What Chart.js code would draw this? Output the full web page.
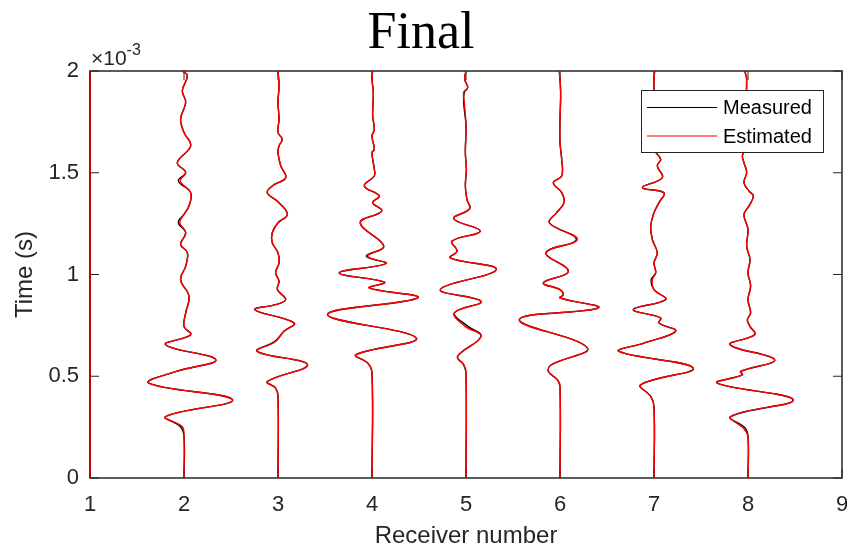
<!DOCTYPE html>
<html>
<head>
<meta charset="utf-8">
<script src="https://cdn.jsdelivr.net/npm/chart.js@4.4.0/dist/chart.umd.min.js"></script>
<style>
  body { margin: 0; background: #fff; }
  #graph { display: block; }
</style>
</head>
<body>
<canvas id="graph" width="847" height="549"></canvas>
<script>
// tick values (time axis is in units of 1e-3 s)
const xTicks = [1, 2, 3, 4, 5, 6, 7, 8, 9];
const yTicks = [0, 0.5, 1, 1.5, 2];

// trace 1 : flat on the left edge
const time1 = [0, 2];
const meas1 = [0, 0];
const est1 = [0, 0];

// trace 2
const time2 = [0, 0.204, 0.253, 0.302, 0.384, 0.466, 0.524, 0.581, 0.655, 0.704, 0.745, 0.811, 0.893, 0.975, 1.041, 1.107, 1.148, 1.205, 1.255, 1.296, 1.337, 1.402, 1.460, 1.501, 1.550, 1.632, 1.698, 1.764, 1.846, 1.903, 1.977, 2.0];
const est2 = [0, 0, -0.02, -0.196, 0.517, -0.374, -0.08, 0.339, -0.196, 0.071, 0, 0.018, 0.053, -0.036, 0.018, 0.036, -0.036, 0.018, -0.045, 0, 0.053, 0.071, -0.04, 0.018, -0.071, 0.071, 0, -0.036, 0.018, -0.018, 0.036, -0.018];
const meas2 = [0, 0, -0.04, -0.196, 0.517, -0.374, -0.08, 0.339, -0.196, 0.071, 0, 0.018, 0.053, -0.036, 0.018, 0.036, -0.036, 0.018, -0.06, 0, 0.053, 0.071, -0.06, 0.018, -0.071, 0.071, 0, -0.036, 0.018, -0.018, 0.036, -0.018];

// trace 3
const time3 = [0, 0.401, 0.442, 0.474, 0.557, 0.622, 0.671, 0.721, 0.762, 0.827, 0.852, 0.877, 0.926, 0.967, 1.008, 1.057, 1.107, 1.156, 1.205, 1.254, 1.295, 1.353, 1.402, 1.435, 1.476, 1.534, 1.599, 1.632, 1.665, 1.698, 1.763, 1.846, 1.928, 2.0];
const est3 = [0, 0, -0.025, -0.114, 0.314, -0.221, -0.025, 0.064, 0.171, -0.246, -0.025, 0.082, -0.007, 0.011, -0.025, 0.011, 0, -0.061, -0.061, 0, 0.1, 0.011, -0.114, -0.061, 0.082, 0.029, 0, 0.011, 0.046, 0, 0.011, 0, 0.011, 0];
const meas3 = [0, 0, -0.025, -0.114, 0.314, -0.221, -0.035, 0.064, 0.171, -0.246, -0.025, 0.082, -0.007, 0.011, -0.025, 0.011, 0, -0.061, -0.061, 0, 0.1, 0.011, -0.114, -0.061, 0.082, 0.029, 0, 0.011, 0.046, 0, 0.011, 0, 0.011, 0];

// trace 4
const time4 = [0, 0.516, 0.565, 0.606, 0.688, 0.803, 0.885, 0.934, 0.962, 1.008, 1.054, 1.090, 1.139, 1.254, 1.312, 1.353, 1.386, 1.435, 1.484, 1.517, 1.599, 1.616, 1.681, 1.714, 1.780, 1.895, 1.960, 2.0];
const est4 = [0, 0, -0.046, -0.171, 0.471, -0.474, 0.488, -0.029, 0.132, -0.349, 0.150, -0.046, 0.125, -0.125, 0.103, 0.007, 0.078, -0.082, 0.025, 0.025, 0, 0.025, 0, 0.025, 0.007, 0.014, 0, 0.007];
const meas4 = [0, 0, -0.046, -0.171, 0.471, -0.474, 0.488, -0.029, 0.132, -0.349, 0.150, -0.06, 0.125, -0.125, 0.103, 0.007, 0.078, -0.082, 0.025, 0.025, 0, 0.025, 0, 0.025, 0.007, 0.014, 0, 0.007];

// trace 5
const time5 = [0, 0.516, 0.557, 0.598, 0.696, 0.745, 0.811, 0.868, 0.926, 1.024, 1.082, 1.115, 1.164, 1.213, 1.274, 1.323, 1.369, 1.435, 1.517, 1.599, 1.731, 1.846, 1.895, 1.919, 1.960, 2.0];
const est5 = [0, 0, -0.025, -0.089, 0.160, -0.01, -0.124, 0.160, -0.273, 0.323, -0.167, -0.096, -0.149, 0.152, -0.131, 0.039, 0.01, -0.007, 0.004, -0.007, 0, -0.018, -0.025, 0.018, -0.014, 0];
const meas5 = [0, 0, -0.025, -0.089, 0.160, 0.02, -0.124, 0.160, -0.273, 0.323, -0.167, -0.096, -0.149, 0.152, -0.131, 0.039, 0.01, -0.007, 0.004, -0.007, 0, -0.025, -0.018, 0.018, -0.014, 0];

// trace 6
const time6 = [0, 0.450, 0.483, 0.524, 0.557, 0.639, 0.778, 0.836, 0.885, 0.901, 0.926, 0.959, 1.016, 1.107, 1.172, 1.254, 1.304, 1.353, 1.402, 1.451, 1.484, 1.566, 1.649, 1.763, 1.895, 2.0];
const est6 = [0, 0, -0.028, -0.124, -0.089, 0.291, -0.433, 0.408, 0, 0.035, 0, -0.177, 0.089, -0.149, 0.184, -0.113, -0.035, 0.043, 0.018, -0.071, 0.018, 0.018, 0, 0, 0.007, -0.007];
const meas6 = [0, 0, -0.028, -0.124, -0.089, 0.291, -0.433, 0.408, 0, 0.035, 0, -0.177, 0.089, -0.149, 0.175, -0.113, -0.035, 0.043, 0.018, -0.071, 0.018, 0.018, 0, 0, 0.007, -0.007];

// trace 7
const time7 = [0, 0.351, 0.401, 0.458, 0.540, 0.622, 0.663, 0.721, 0.762, 0.787, 0.828, 0.877, 0.926, 0.975, 1.008, 1.057, 1.107, 1.172, 1.238, 1.304, 1.353, 1.402, 1.427, 1.476, 1.534, 1.566, 1.616, 1.731, 1.895, 1.960, 2.0];
const est7 = [0, 0, -0.035, -0.142, 0.418, -0.372, -0.106, 0.230, 0.053, 0.071, -0.220, 0.124, 0, -0.018, 0.018, 0, 0.035, -0.018, -0.035, 0, 0.053, 0.106, -0.124, 0.089, 0.035, 0.071, 0, 0, 0, 0, 0.007];
const meas7 = [0, 0, -0.035, -0.142, 0.418, -0.372, -0.106, 0.230, 0.053, 0.071, -0.220, 0.124, 0, -0.03, 0.018, 0, 0.035, -0.018, -0.035, 0, 0.053, 0.106, -0.124, 0.089, 0.035, 0.071, 0, 0, 0, 0, 0.007];

// trace 8
const time8 = [0, 0.204, 0.245, 0.302, 0.384, 0.466, 0.507, 0.524, 0.581, 0.655, 0.704, 0.745, 0.778, 0.811, 0.877, 0.943, 1.008, 1.074, 1.139, 1.222, 1.295, 1.337, 1.386, 1.410, 1.451, 1.501, 1.550, 1.583, 1.616, 1.960, 2.0];
const est8 = [0, 0, -0.05, -0.184, 0.482, -0.326, -0.06, -0.078, 0.284, -0.191, 0.071, 0.021, -0.007, 0.028, 0, 0.028, 0, 0.021, -0.014, 0, -0.043, 0.011, 0.057, 0.011, -0.043, -0.014, -0.043, -0.06, -0.035, -0.014, -0.035];
const meas8 = [0, 0, -0.03, -0.184, 0.482, -0.326, -0.06, -0.078, 0.284, -0.191, 0.071, 0.021, -0.007, 0.028, 0, 0.028, 0, 0.021, -0.014, 0, -0.043, 0.011, 0.057, 0.011, -0.043, -0.014, -0.043, -0.06, -0.035, -0.014, -0.035];

const traces = [
  { rec: 1, time: time1, meas: meas1, est: est1 },
  { rec: 2, time: time2, meas: meas2, est: est2 },
  { rec: 3, time: time3, meas: meas3, est: est3 },
  { rec: 4, time: time4, meas: meas4, est: est4 },
  { rec: 5, time: time5, meas: meas5, est: est5 },
  { rec: 6, time: time6, meas: meas6, est: est6 },
  { rec: 7, time: time7, meas: meas7, est: est7 },
  { rec: 8, time: time8, meas: meas8, est: est8 }
];

const axisColor = '#262626';
const sans = 'Liberation Sans, Arial, sans-serif';

var datasets = [];
traces.forEach(tr => {
  datasets.push({
    label: 'Estimated',
    data: tr.time.map((t, k) => ({ x: tr.rec + tr.est[k], y: t })),
    borderColor: '#ff0000',
    order: 0
  });
  datasets.push({
    label: 'Measured',
    data: tr.time.map((t, k) => ({ x: tr.rec + tr.meas[k], y: t })),
    borderColor: '#000000',
    order: 1
  });
});

// box, inward ticks, legend and the x10^-3 multiplier
const frame = {
  id: 'frame',
  beforeDatasetsDraw(chart) {
    const { ctx, chartArea: a, scales: { x, y } } = chart;
    ctx.save();
    ctx.strokeStyle = axisColor;
    ctx.lineWidth = 1.5;
    ctx.strokeRect(a.left, a.top, a.right - a.left, a.bottom - a.top);
    ctx.lineWidth = 1;
    ctx.beginPath();
    xTicks.forEach(v => {
      const px = x.getPixelForValue(v);
      ctx.moveTo(px, a.bottom); ctx.lineTo(px, a.bottom - 9);
      ctx.moveTo(px, a.top); ctx.lineTo(px, a.top + 9);
    });
    yTicks.forEach(v => {
      const py = y.getPixelForValue(v);
      ctx.moveTo(a.left, py); ctx.lineTo(a.left + 9, py);
      ctx.moveTo(a.right, py); ctx.lineTo(a.right - 9, py);
    });
    ctx.stroke();
    ctx.restore();
  },
  afterDraw(chart) {
    const { ctx, chartArea: a } = chart;
    ctx.save();
    // exponent
    ctx.fillStyle = axisColor;
    ctx.textBaseline = 'alphabetic';
    ctx.font = '21px ' + sans;
    ctx.fillText('\u00d710', a.left + 1, a.top - 6);
    const w = ctx.measureText('\u00d710').width;
    ctx.font = '16px ' + sans;
    ctx.fillText('-3', a.left + 1 + w, a.top - 16);

    // legend
    const bw = 182, bh = 62;
    const bx = a.right - 19 - bw, by = a.top + 19;
    ctx.fillStyle = '#ffffff';
    ctx.fillRect(bx, by, bw, bh);
    ctx.strokeStyle = axisColor;
    ctx.lineWidth = 1;
    ctx.strokeRect(bx + 0.5, by + 0.5, bw, bh);
    const items = [['Measured', '#000000', 17.5], ['Estimated', '#ff0000', 46]];
    ctx.font = '20px ' + sans;
    ctx.textBaseline = 'middle';
    items.forEach(it => {
      ctx.strokeStyle = it[1];
      ctx.lineWidth = 1.2;
      ctx.beginPath();
      ctx.moveTo(bx + 6, by + it[2]);
      ctx.lineTo(bx + 76, by + it[2]);
      ctx.stroke();
      ctx.fillStyle = '#000000';
      ctx.fillText(it[0], bx + 82, by + it[2] + 1);
    });
    ctx.restore();
  }
};

var graph = document.getElementById('graph').getContext('2d');
var myChart = new Chart(graph, {
  type: 'line',
  data: { datasets: datasets },
  plugins: [frame],
  options: {
    responsive: false,
    animation: false,
    events: [],
    layout: { padding: { left: 0, right: 5, top: 0, bottom: 0 } },
    elements: {
      point: { radius: 0 },
      line: { tension: 0.4, borderWidth: 1.4, fill: false }
    },
    datasets: { line: { clip: false } },
    plugins: {
      legend: { display: false },
      tooltip: { enabled: false },
      title: {
        display: true,
        text: 'Final',
        color: '#000000',
        font: { family: 'Liberation Serif', size: 52, weight: 'normal', lineHeight: 1 },
        padding: { top: 8, bottom: 11 }
      }
    },
    scales: {
      x: {
        type: 'linear',
        min: 1,
        max: 9,
        afterBuildTicks: s => { s.ticks = xTicks.map(v => ({ value: v })); },
        afterFit: s => { s.height = 71; s.paddingLeft = 0; s.paddingRight = 0; },
        grid: { display: false, drawTicks: false },
        border: { display: false },
        ticks: { padding: 14, color: axisColor, font: { family: sans, size: 22 }, maxRotation: 0 },
        title: {
          display: true,
          text: 'Receiver number',
          color: axisColor,
          font: { family: sans, size: 24, lineHeight: 1 },
          padding: { top: 0, bottom: 1 }
        }
      },
      y: {
        type: 'linear',
        min: 0,
        max: 2,
        afterBuildTicks: s => { s.ticks = yTicks.map(v => ({ value: v })); },
        afterFit: s => { s.width = 90; s.paddingTop = 0; s.paddingBottom = 0; },
        grid: { display: false, drawTicks: false },
        border: { display: false },
        ticks: { padding: 11, color: axisColor, font: { family: sans, size: 22 }, callback: v => String(v) },
        title: {
          display: true,
          text: 'Time (s)',
          color: axisColor,
          font: { family: sans, size: 24, lineHeight: 1 },
          padding: { top: 13, bottom: 0 }
        }
      }
    }
  }
});
</script>
</body>
</html>
